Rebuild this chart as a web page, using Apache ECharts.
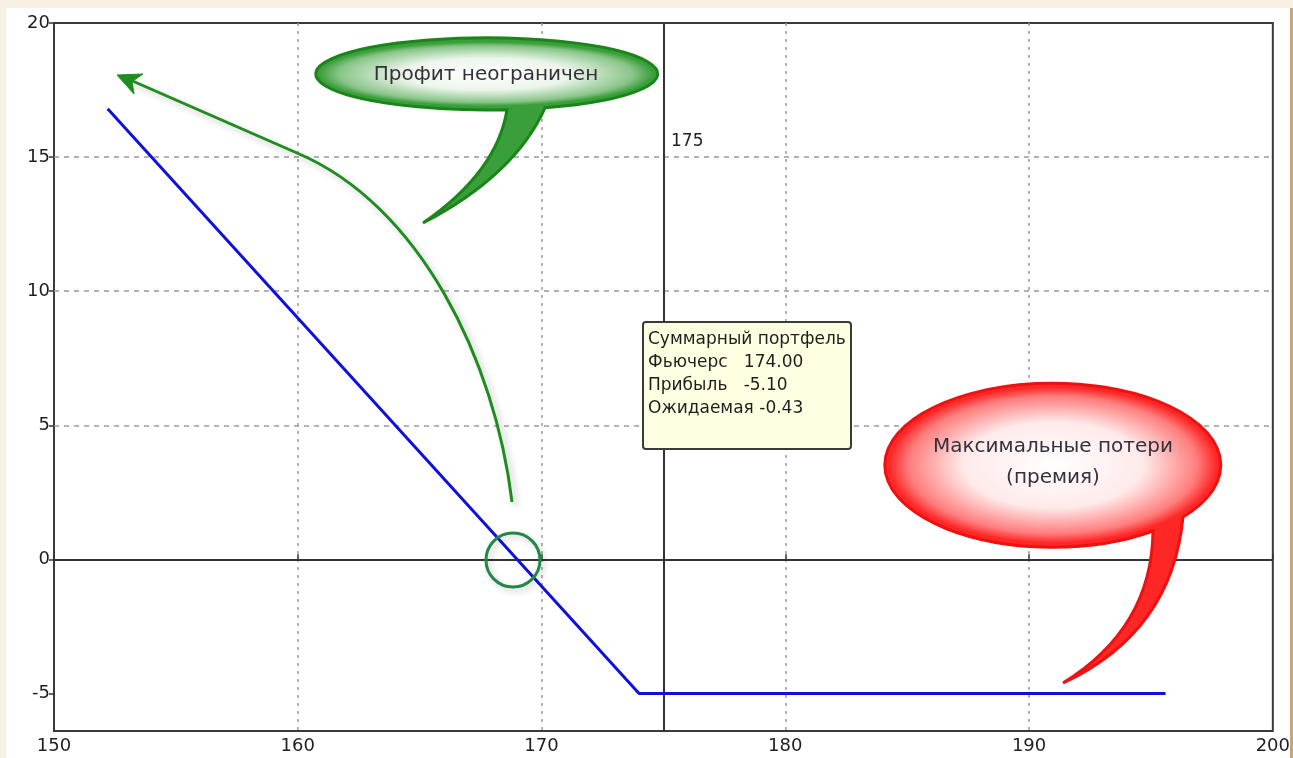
<!DOCTYPE html>
<html><head><meta charset="utf-8">
<script src="https://cdn.jsdelivr.net/npm/echarts@6/dist/echarts.min.js"></script>
<style>
html,body{margin:0;padding:0;background:#f6f1e3;overflow:hidden;}
#panel{position:absolute;left:6px;top:8px;width:1284px;height:750px;background:#fff;}
#edge{position:absolute;left:1290px;top:8px;width:3px;height:750px;background:#caa27c;}
#chart{position:absolute;left:0;top:0;width:1293px;height:758px;}
</style></head><body>
<div id="panel"></div><div id="edge"></div><div id="chart"></div>
<script>
// ---- data ----
const futuresPrice = [152.2, 174, 195.6];
const portfolioProfit = [16.8, -5, -5];
const xTicks = [150, 160, 170, 180, 190, 200];
const yTicks = [-5, 0, 5, 10, 15, 20];
const strikeLine = 175;
const zeroLine = 0;
const tipLabels = ['Суммарный портфель', 'Фьючерс', 'Прибыль', 'Ожидаемая'];
const tipValues = ['', '174.00', '-5.10', '-0.43'];
const noteProfit = 'Профит неограничен';
const noteLoss = ['Максимальные потери', '(премия)'];

const FONT = '"DejaVu Sans", Verdana, sans-serif';

// custom shapes (annotation outlines)
const G = echarts.graphic;
G.registerShape('balloonGreen', G.extendPath(
  'M545,107.8 A171,36 0 1 0 507,109.7 Q497,172 423,223 Q515,175 545,107.8 Z'));
G.registerShape('balloonRed', G.extendPath(
  'M1183,517 A168,82 0 1 0 1153,531 Q1152,628 1063,683 Q1172,632 1183,517 Z'));
G.registerShape('greenArrow', G.extendPath(
  'M128,79 L297,153 C420,205 495,360 512,502'));

const chart = echarts.init(document.getElementById('chart'), null, {renderer: 'canvas'});

const pts = futuresPrice.map((x, i) => [x, portfolioProfit[i]]);

function whiteGlow(cx, cy, rx, ry, mid) {
  return {
    type: 'circle', x: cx, y: cy, scaleY: ry / rx, silent: true, z: 101,
    shape: {cx: 0, cy: 0, r: rx},
    style: {
      fill: {type: 'radial', x: 0.5, y: 0.5, r: 0.5, colorStops: [
        {offset: 0, color: 'rgba(255,255,255,1)'},
        {offset: mid, color: 'rgba(255,255,255,0.9)'},
        {offset: 0.88, color: 'rgba(255,255,255,0.4)'},
        {offset: 1, color: 'rgba(255,255,255,0)'}
      ]}
    }
  };
}

const graphics = [
  // green arrow
  {type: 'greenArrow', z: 100, silent: true, shape: {},
   style: {fill: null, stroke: '#1e8c1e', lineWidth: 3,
           shadowBlur: 6, shadowColor: 'rgba(0,0,0,0.22)', shadowOffsetX: 4, shadowOffsetY: 4}},
  {type: 'polygon', z: 100, silent: true,
   shape: {points: [[117, 75], [143, 74], [132, 81.5], [134, 94]]},
   style: {fill: '#1e8c1e', stroke: '#1e8c1e', lineWidth: 1}},
  // green circle
  {type: 'circle', z: 100, silent: true, shape: {cx: 513, cy: 560, r: 27},
   style: {fill: null, stroke: '#22884a', lineWidth: 3,
           shadowBlur: 6, shadowColor: 'rgba(0,0,0,0.2)', shadowOffsetX: 3, shadowOffsetY: 3}},
  // green balloon
  {type: 'balloonGreen', z: 100, silent: true, shape: {},
   style: {fill: '#3a9e3a', stroke: '#1a861a', lineWidth: 3}},
  whiteGlow(486, 74, 167, 32, 0.5),
  {type: 'text', z: 102, silent: true, x: 486, y: 75,
   style: {text: noteProfit, fill: '#35303a', font: '20px ' + FONT, align: 'center', verticalAlign: 'middle'}},
  // red balloon
  {type: 'balloonRed', z: 100, silent: true, shape: {},
   style: {fill: '#ff2626', stroke: '#ee1111', lineWidth: 3}},
  whiteGlow(1053, 465, 164, 78, 0.55),
  {type: 'text', z: 102, silent: true, x: 1053, y: 447,
   style: {text: noteLoss[0], fill: '#35303a', font: '20px ' + FONT, align: 'center', verticalAlign: 'middle'}},
  {type: 'text', z: 102, silent: true, x: 1053, y: 478,
   style: {text: noteLoss[1], fill: '#35303a', font: '20px ' + FONT, align: 'center', verticalAlign: 'middle'}},
  // strike label
  {type: 'text', z: 102, silent: true, x: 671, y: 142,
   style: {text: String(strikeLine), fill: '#222', font: '17px ' + FONT, verticalAlign: 'middle'}},
  // tooltip box
  {type: 'rect', z: 100, silent: true, shape: {x: 643, y: 322, width: 208, height: 127, r: 3},
   style: {fill: '#ffffe1', stroke: '#3a3a3a', lineWidth: 2}}
];
const tipY = [340, 363, 386, 409];
const gaps = ['', '   ', '   ', ' '];
tipLabels.forEach((t, i) => {
  graphics.push({type: 'text', z: 102, silent: true, x: 648, y: tipY[i],
    style: {text: t + gaps[i] + tipValues[i], fill: '#1e1e1e', font: '17px ' + FONT, verticalAlign: 'middle'}});
});

chart.setOption({
  animation: false,
  backgroundColor: 'transparent',
  grid: {left: 54, right: 19, top: 23, bottom: 27, show: true, backgroundColor: '#fff',
         borderColor: '#3a3a3a', borderWidth: 2},
  xAxis: {
    type: 'value', min: 150, max: 200, interval: 10,
    axisLine: {show: false},
    axisTick: {show: true, inside: true, length: 5, lineStyle: {color: '#333', width: 1.5}},
    axisLabel: {color: '#1e1e1e', fontSize: 18, fontFamily: FONT, margin: 6,
                customValues: xTicks},
    splitLine: {show: true, showMinLine: false, showMaxLine: false,
                lineStyle: {color: '#9a9a9a', width: 1.5, type: [3, 5]}}
  },
  yAxis: {
    type: 'value', min: -6.4, max: 20,
    axisLine: {show: false},
    axisTick: {show: true, inside: false, length: 5, customValues: yTicks, lineStyle: {color: '#333', width: 1.5}},
    axisLabel: {color: '#1e1e1e', fontSize: 18, fontFamily: FONT, margin: 4, customValues: yTicks},
    splitLine: {show: true, showMinLine: false, showMaxLine: false,
                lineStyle: {color: '#9a9a9a', width: 1.5, type: [5, 5]}}
  },
  series: [{
    type: 'line', data: pts, symbol: 'none', z: 5,
    lineStyle: {color: '#1010dc', width: 3},
    markLine: {
      silent: true, symbol: 'none', animation: false,
      label: {show: false},
      lineStyle: {color: '#333', width: 2, type: 'solid'},
      data: [{yAxis: zeroLine}, {xAxis: strikeLine}]
    }
  }],
  graphic: graphics
});
</script>
</body></html>
